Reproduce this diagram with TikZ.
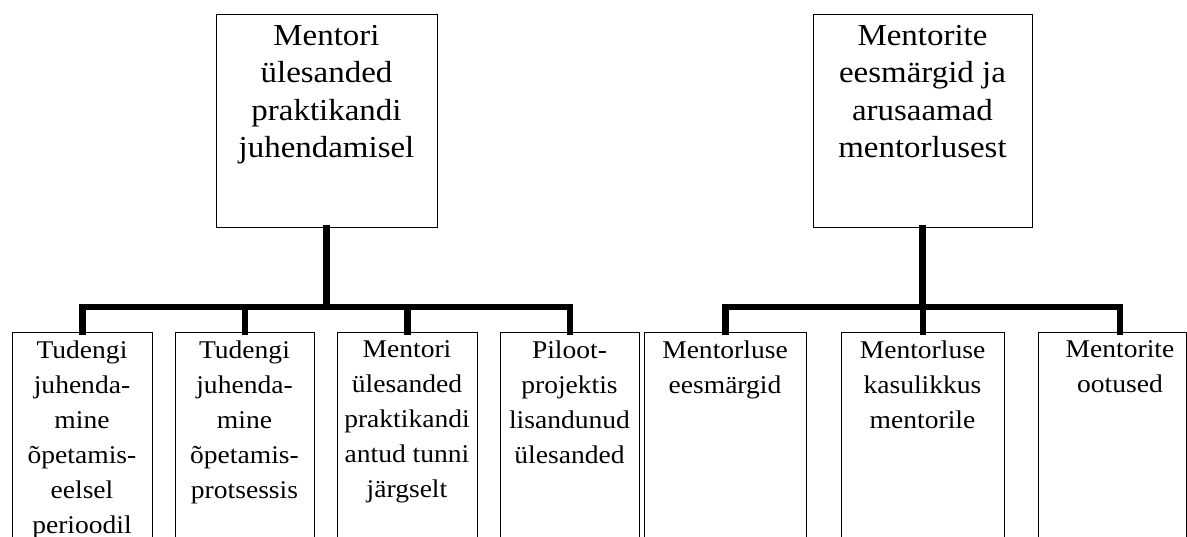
\documentclass[tikz,border=0pt]{standalone}
\usepackage{fontspec}
\setmainfont{Liberation Serif}[FakeStretch=1.08]
\begin{document}
\begin{tikzpicture}[x=1pt,y=-1pt,
  topbox/.style={draw,line width=1.3pt,inner sep=0pt,anchor=north west},
  subbox/.style={draw,line width=1.3pt,inner sep=0pt,anchor=north west},
  toptext/.style={inner sep=0pt,anchor=north,align=center,font={\fontsize{30.5}{37.5}\selectfont}},
  subtext/.style={inner sep=0pt,anchor=north,align=center,font={\fontsize{25.5}{35}\selectfont}},
  conn/.style={line width=6.5pt,line cap=rect,line join=miter}]
\useasboundingbox (0,0) rectangle (1187,537);
\fill[white] (0,0) rectangle (1187,537);
\clip (0,0) rectangle (1187,537);
% top boxes
\node[topbox,minimum width=221pt,minimum height=213pt] (t1) at (216,14) {};
\node[toptext] (t1t) at (326.5,25) {Mentori\\ ülesanded\\ praktikandi\\ juhendamisel};
\node[topbox,minimum width=219pt,minimum height=213pt] (t2) at (813,14) {};
\node[toptext] (t2t) at (922.5,25) {Mentorite\\ eesmärgid ja\\ arusaamad\\ mentorlusest};
% sub boxes
\node[subbox,minimum width=140pt,minimum height=240pt] (b1) at (12,332) {};
\node[subbox,minimum width=139pt,minimum height=240pt] (b2) at (175,332) {};
\node[subbox,minimum width=140pt,minimum height=240pt] (b3) at (337,332) {};
\node[subbox,minimum width=139pt,minimum height=240pt] (b4) at (500,332) {};
\node[subbox,minimum width=162pt,minimum height=240pt] (b5) at (644,332) {};
\node[subbox,minimum width=163pt,minimum height=240pt] (b6) at (841,332) {};
\node[subbox,minimum width=148pt,minimum height=240pt] (b7) at (1038,332) {};
\node[subtext] (b1t) at (82,340.5) {Tudengi\\ juhenda-\\ mine\\ õpetamis-\\ eelsel\\ perioodil};
\node[subtext] (b2t) at (244.5,340.5) {Tudengi\\ juhenda-\\ mine\\ õpetamis-\\ protsessis};
\node[subtext] (b3t) at (407,340.5) {Mentori\\ ülesanded\\ praktikandi\\ antud tunni\\ järgselt};
\node[subtext] (b4t) at (569.5,340.5) {Piloot-\\ projektis\\ lisandunud\\ ülesanded};
\node[subtext] (b5t) at (725,340.5) {Mentorluse\\ eesmärgid};
\node[subtext] (b6t) at (922.5,340.5) {Mentorluse\\ kasulikkus\\ mentorile};
\node[subtext] (b7t) at (1120,340.5) {Mentorite\\ ootused};
% buses
\coordinate (busA) at (0,307);
\coordinate (busB) at (0,307);
\draw[conn] (t1t |- t1.south) -- (t1t |- busA);
\draw[conn] (b1.north) -- (b1.north |- busA) -- (b4.north |- busA) -- (b4.north);
\draw[conn] (b2.north |- busA) -- (b2.north);
\draw[conn] (b3.north |- busA) -- (b3.north);
\draw[conn] (t2t |- t2.south) -- (t2t |- busB);
\draw[conn] (b5.north) -- (b5.north |- busB) -- (b7t |- busB) -- (b7t |- b7.north);
\draw[conn] (b6.north |- busB) -- (b6.north);
\end{tikzpicture}
\end{document}
